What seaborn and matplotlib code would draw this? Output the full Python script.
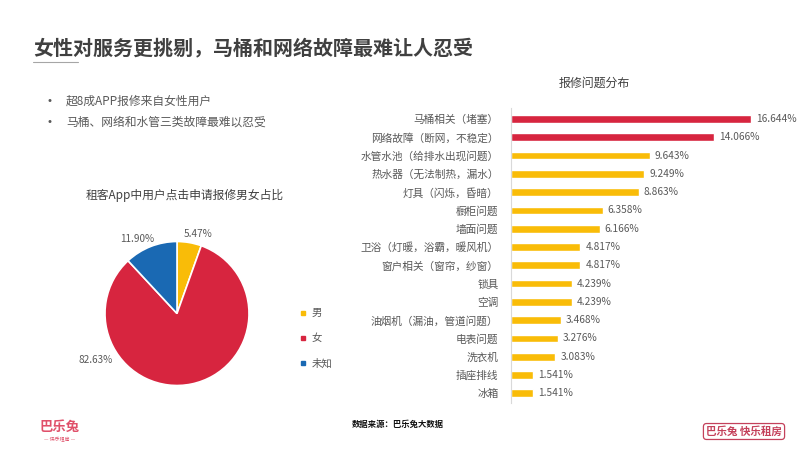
import matplotlib
matplotlib.use("Agg")
import matplotlib.pyplot as plt
from matplotlib.lines import Line2D
import seaborn as sns
import pandas as pd

# ---------------- data ----------------
title = "女性对服务更挑剔，马桶和网络故障最难让人忍受"
bullets = ["超8成APP报修来自女性用户", "马桶、网络和水管三类故障最难以忍受"]

pie_title = "租客App中用户点击申请报修男女占比"
pie_labels = ["男", "女", "未知"]
pie_values = [5.47, 82.63, 11.90]

bar_title = "报修问题分布"
bar_categories = ["马桶相关（堵塞）", "网络故障（断网，不稳定）", "水管水池（给排水出现问题）",
                  "热水器（无法制热，漏水）", "灯具（闪烁，昏暗）", "橱柜问题", "墙面问题",
                  "卫浴（灯暖，浴霸，暖风机）", "窗户相关（窗帘，纱窗）", "锁具", "空调",
                  "油烟机（漏油，管道问题）", "电表问题", "洗衣机", "插座排线", "冰箱"]
bar_values = [16.644, 14.066, 9.643, 9.249, 8.863, 6.358, 6.166, 4.817, 4.817,
              4.239, 4.239, 3.468, 3.276, 3.083, 1.541, 1.541]
highlight_count = 2

source_text = "数据来源：巴乐兔大数据"

# ---------------- style ----------------
sns.set_theme(style="white")
plt.rcParams['font.family'] = ['Noto Sans CJK SC', 'DejaVu Sans']

RED = "#D7253F"
YELLOW = "#F9BC08"
BLUE = "#1A69B3"
DARK = "#404040"
GREY = "#595959"

fig = plt.figure(figsize=(8, 4.5), dpi=100)
fig.patch.set_facecolor("white")

W, H = 800.0, 450.0
def fx(px):
    return px / W
def fy(py):
    return 1 - py / H

# title and underline
fig.text(fx(33), fy(48), title, fontsize=14.4, fontweight="bold", color=DARK,
         ha="left", va="center")
fig.add_artist(Line2D([fx(33), fx(78)], [fy(61.5), fy(61.5)], color="#A6A6A6", lw=0.8))

# bullets
for i, b in enumerate(bullets):
    y = 101 + i * 21
    fig.text(fx(47), fy(y), "•", fontsize=7.5, color=GREY, ha="left", va="center",
             family="DejaVu Sans")
    fig.text(fx(66), fy(y), b, fontsize=8.5, color=GREY, ha="left", va="center")

# ---------------- bar chart ----------------
ax = fig.add_axes([fx(511), fy(403), fx(790) - fx(511), (403 - 108) / H])
df = pd.DataFrame({"cat": bar_categories, "val": bar_values})
colors = [RED if i < highlight_count else YELLOW for i in range(len(bar_categories))]
sns.barplot(data=df, x="val", y="cat", hue="cat", palette=colors, legend=False,
            width=0.42, ax=ax, saturation=1)
ax.set_xlim(0, (790 - 511) / ((751 - 511) / 16.644))
ax.set_ylim(len(bar_categories) - 0.47, -0.6)
ax.set_xlabel("")
ax.set_ylabel("")
ax.set_xticks([])
for s in ["top", "right", "bottom"]:
    ax.spines[s].set_visible(False)
ax.spines["left"].set_color("#D9D9D9")
ax.spines["left"].set_linewidth(0.8)
ax.tick_params(axis="y", length=0, pad=9, labelsize=7.7, labelcolor=GREY)
for cont in ax.containers:
    ax.bar_label(cont, labels=[f"{v:.3f}%" for v in cont.datavalues], padding=3.5,
                 fontsize=7.3, color=GREY)
ax.patch.set_alpha(0)
fig.text(fx(594), fy(83), bar_title, fontsize=8.6, color=DARK, ha="center", va="center")

# ---------------- pie chart ----------------
cx, cy, r = 177, 313.5, 72
pax = fig.add_axes([fx(cx - r), fy(cy + r), 2 * r / W, 2 * r / H])
pax.pie(pie_values, colors=[YELLOW, RED, BLUE], startangle=90, counterclock=False,
        wedgeprops=dict(edgecolor="white", linewidth=1.2), radius=1)
pax.set_xlim(-1, 1)
pax.set_ylim(-1, 1)
pax.set_aspect("auto")
label_pos = [(0.29, 1.10), (-1.135, -0.65), (-0.555, 1.03)]
for v, (lx, ly) in zip(pie_values, label_pos):
    pax.text(lx, ly, f"{v:.2f}%", fontsize=7.2, color=GREY, ha="center", va="center")
fig.text(fx(185), fy(195), pie_title, fontsize=8.5, color=DARK, ha="center", va="center")

handles = [Line2D([0], [0], marker="s", linestyle="none", markersize=3.5,
                  markerfacecolor=c, markeredgecolor=c) for c in [YELLOW, RED, BLUE]]
fig.legend(handles, pie_labels, loc="center left",
           bbox_to_anchor=(fx(295), fy(338.5)), frameon=False, fontsize=7.5,
           labelcolor=GREY, handlelength=0.6, handletextpad=0.5, labelspacing=1.45,
           borderpad=0)

# ---------------- footer ----------------
fig.text(fx(398), fy(424), source_text, fontsize=6, color="#111111", ha="center",
         va="center", fontweight="bold")
fig.text(fx(744), fy(431.5), "巴乐兔 快乐租房", fontsize=7.6, color="#C4415B", ha="center",
         va="center", fontweight="bold",
         bbox=dict(boxstyle="round,pad=0.25,rounding_size=0.3", facecolor="white",
                   edgecolor="#C4415B", linewidth=0.9))
fig.text(fx(60), fy(427), "巴乐兔", fontsize=9.6, color="#E0506A", ha="center",
         va="center", fontweight="bold")
fig.text(fx(60), fy(440), "— 快乐租房 —", fontsize=3.6, color="#E0506A", ha="center",
         va="center")

fig.savefig("out.png", dpi=100, facecolor="white")
